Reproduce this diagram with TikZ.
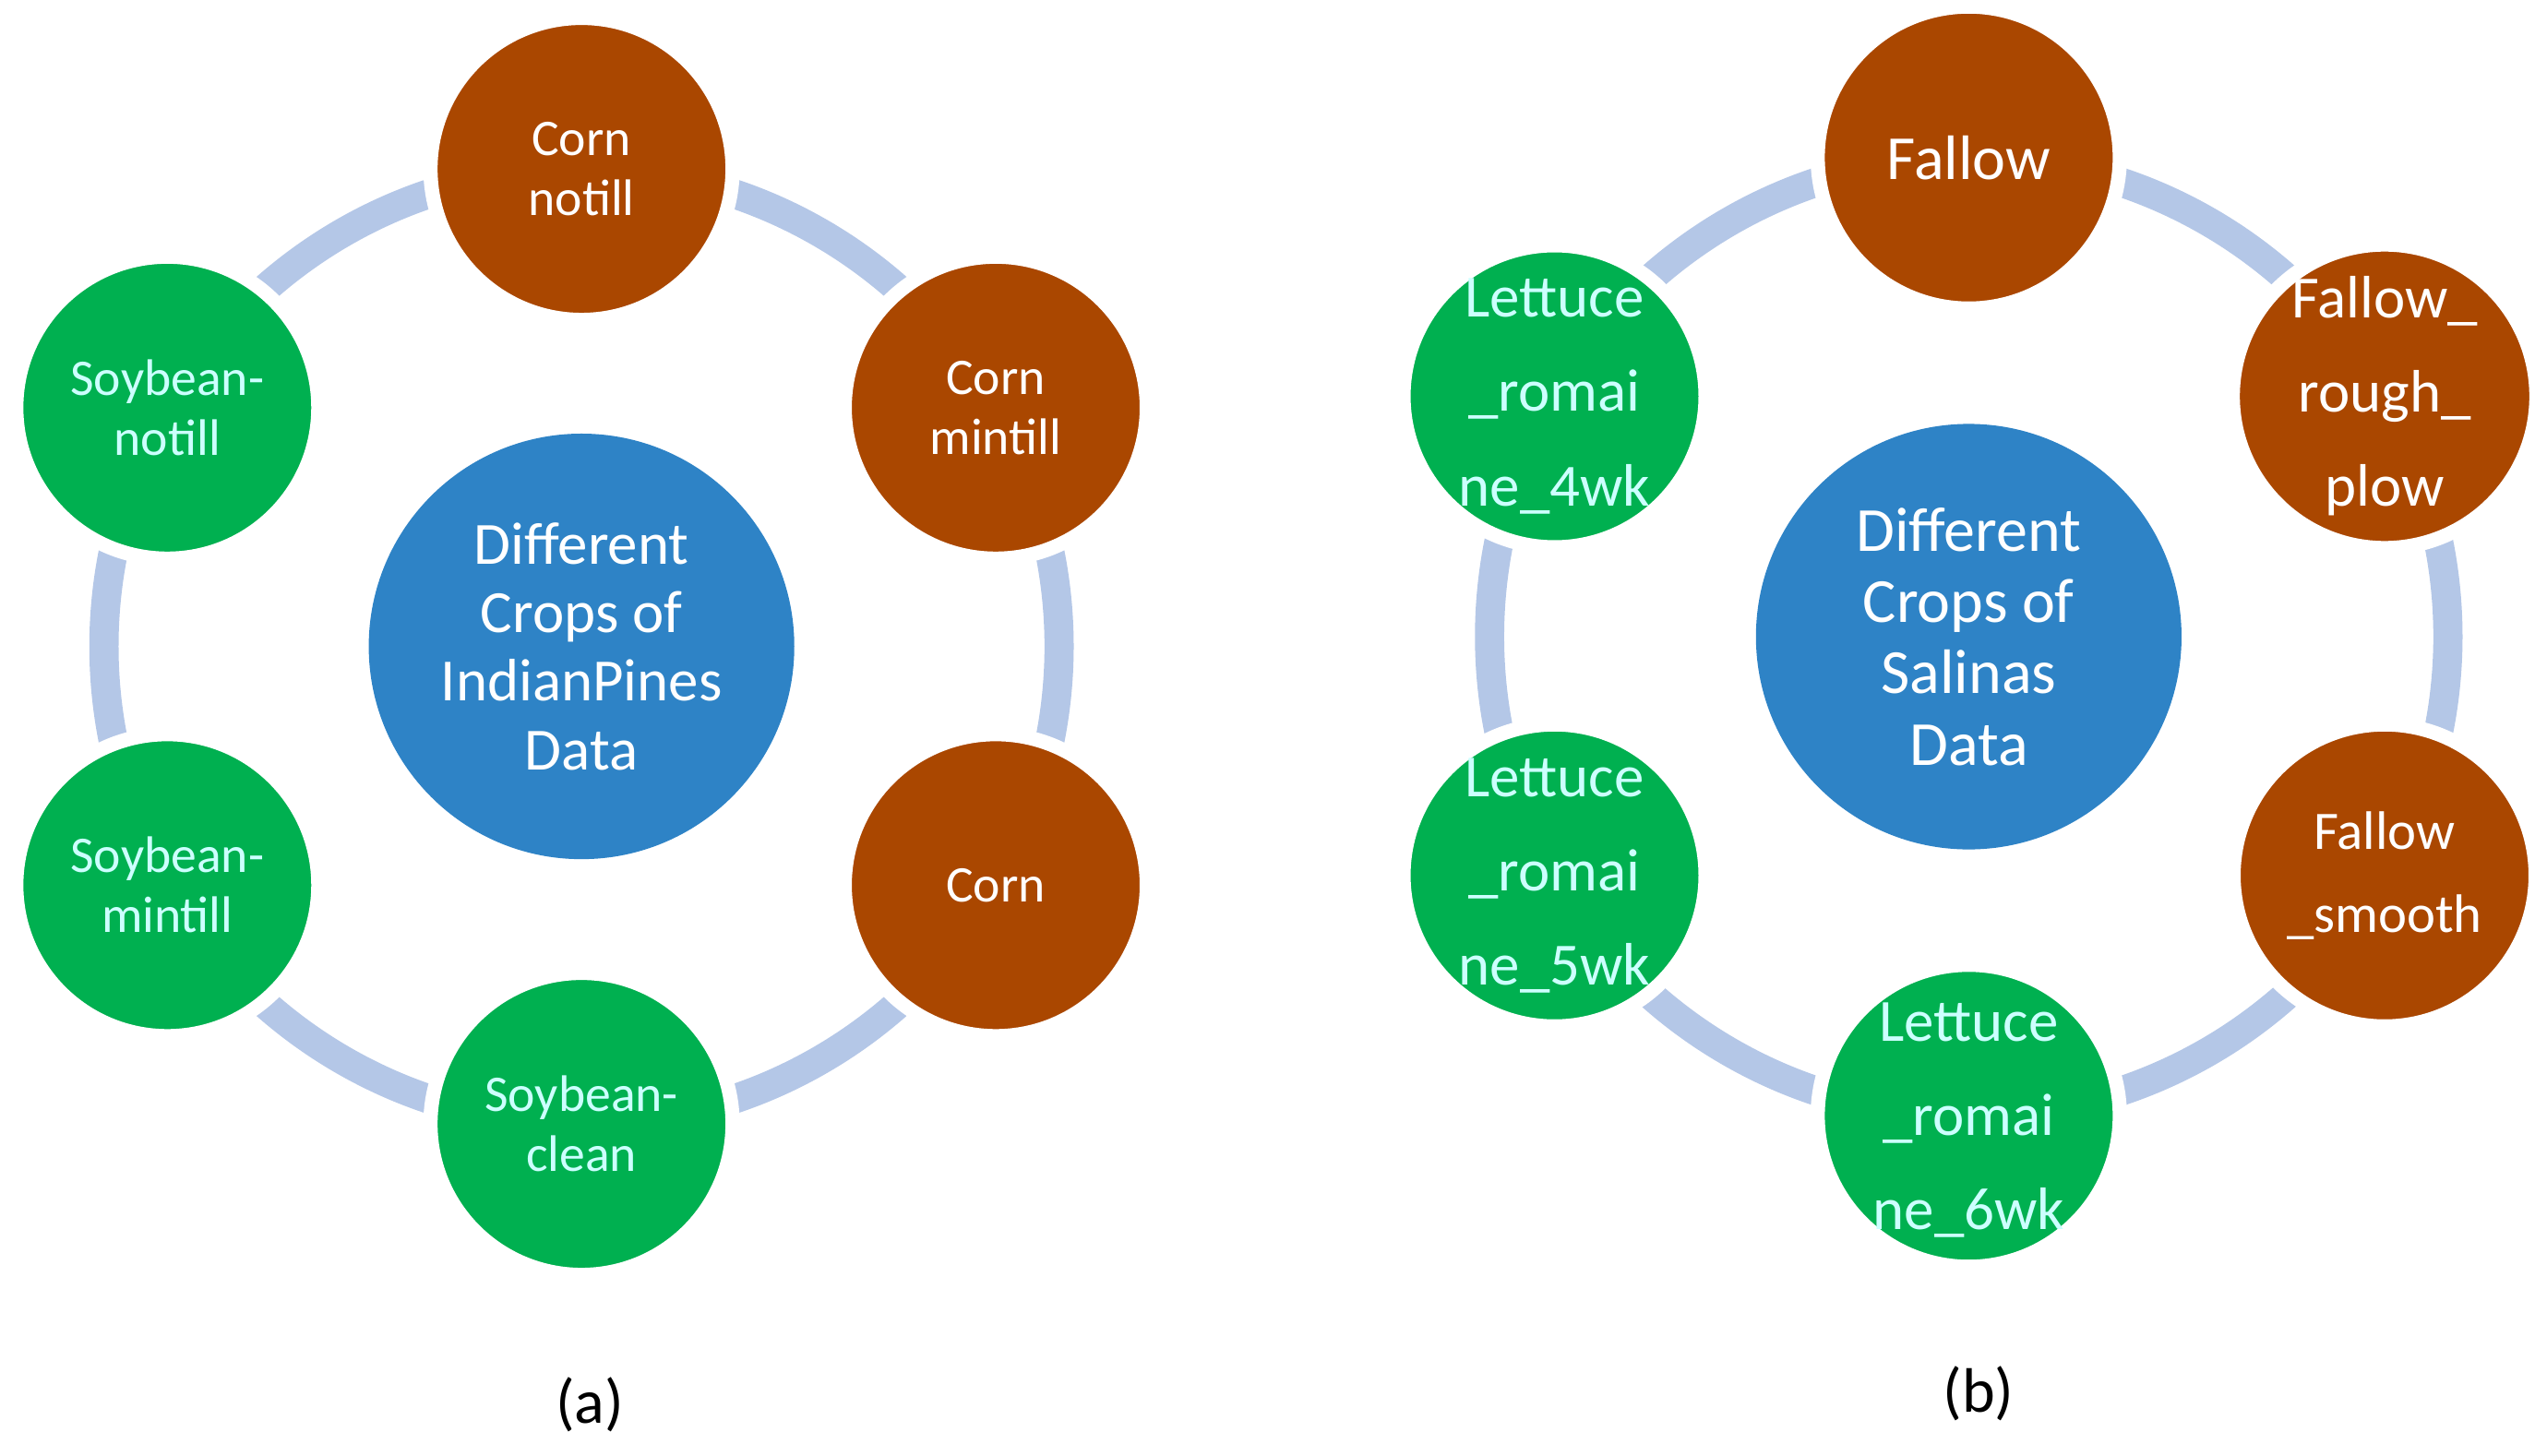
\documentclass[tikz,border=0pt]{standalone}
\usepackage{fontspec}
\setmainfont{Carlito}
\begin{document}
\begin{tikzpicture}[x=0.02cm,y=-0.02cm,
 ring/.style={draw=ringc,line width=18*0.02cm},
 sm/.style={circle,draw=white,line width=5pt,minimum size=186*0.02cm,inner sep=0pt,align=center},
 br/.style={sm,fill=brn,text=white},
 gr/.style={sm,fill=grn,text=lcyan},
 big/.style={circle,fill=blu,text=white,minimum size=262*0.02cm,inner sep=0pt,align=center},
 fa/.style={font=\fontsize{18}{21}\selectfont},
 fb/.style={font=\fontsize{21}{33}\selectfont},
 fc/.style={font=\fontsize{19}{29}\selectfont}]
\definecolor{ringc}{HTML}{B4C7E7}
\definecolor{brn}{HTML}{AA4700}
\definecolor{grn}{HTML}{00B050}
\definecolor{blu}{HTML}{2E83C6}
\definecolor{lcyan}{HTML}{CCFFFF}
\useasboundingbox (0,0) rectangle (1568,896);
% left
\coordinate (lc) at (358,398);
\draw[ring] (lc) circle (294);
\node[big,font=\fontsize{21}{24}\selectfont] (lmid) at (lc) {Different\\Crops of\\IndianPines\\Data};
\node[br,fa] (cn) at (358,104) {Corn\\notill};
\node[br,fa] (cm) at (613,251) {Corn\\mintill};
\node[br,fa] (co) at (613,545) {Corn};
\node[gr,fa] (sc) at (358,692) {Soybean-\\clean};
\node[gr,fa] (sm) at (103,545) {Soybean-\\mintill};
\node[gr,fa] (sn) at (103,251) {Soybean-\\notill};
% right
\coordinate (rc) at (1212,392);
\draw[ring] (rc) circle (295);
\node[big,font=\fontsize{22}{25}\selectfont] (rmid) at (rc) {Different\\Crops of\\Salinas\\Data};
\node[br,font=\fontsize{22}{26}\selectfont] (fw) at (1212,97) {Fallow};
\node[br,fb] (fr) at (1468,244) {Fallow\_\\rough\_\\plow};
\node[br,fc] (fs) at (1468,539) {Fallow\\\_smooth};
\node[gr,fb,text depth=-0.14cm] (l6) at (1212,687) {Lettuce\\\_romai\\ne\_6wk};
\node[gr,fb] (l5) at (957,539) {Lettuce\\\_romai\\ne\_5wk};
\node[gr,fb] (l4) at (957,244) {Lettuce\\\_romai\\ne\_4wk};
\node[font=\fontsize{22}{26}\selectfont] (la) at (363,865) {(a)};
\node[font=\fontsize{22}{26}\selectfont] (lb) at (1218,858) {(b)};
\end{tikzpicture}
\end{document}
